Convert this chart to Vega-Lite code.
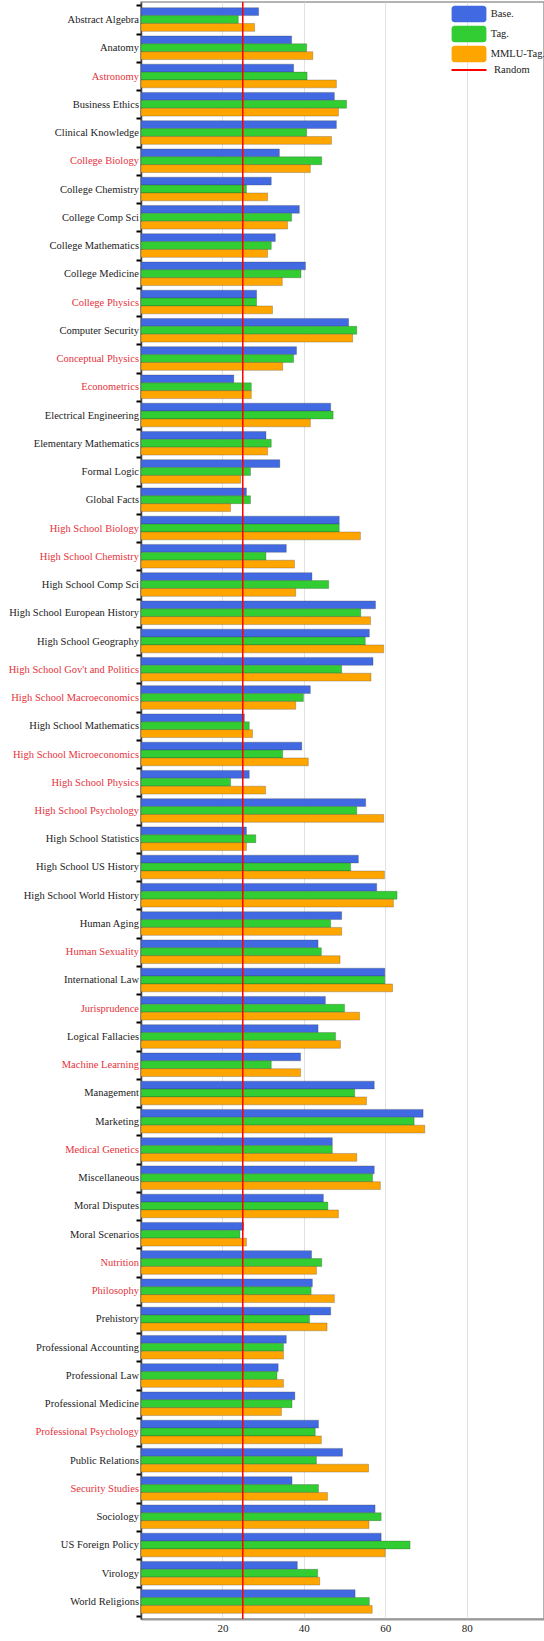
{
  "$schema": "https://vega.github.io/schema/vega-lite/v6.json",
  "width": 403,
  "height": 1617,
  "autosize": {"type": "none"},
  "padding": {"left": 141, "top": 2, "right": 0, "bottom": 22},
  "background": "white",
  "config": {"view": {"stroke": "#9a9a9a", "strokeWidth": 1.5}, "font": "Liberation Serif"},
  "layer": [
    {
      "data": {"values": [
        {"subject": "Abstract Algebra", "series": "Base.", "value": 28.9},
        {"subject": "Abstract Algebra", "series": "Tag.", "value": 23.9},
        {"subject": "Abstract Algebra", "series": "MMLU-Tag.", "value": 27.9},
        {"subject": "Anatomy", "series": "Base.", "value": 37.0},
        {"subject": "Anatomy", "series": "Tag.", "value": 40.7},
        {"subject": "Anatomy", "series": "MMLU-Tag.", "value": 42.2},
        {"subject": "Astronomy", "series": "Base.", "value": 37.5},
        {"subject": "Astronomy", "series": "Tag.", "value": 40.8},
        {"subject": "Astronomy", "series": "MMLU-Tag.", "value": 48.0},
        {"subject": "Business Ethics", "series": "Base.", "value": 47.5},
        {"subject": "Business Ethics", "series": "Tag.", "value": 50.5},
        {"subject": "Business Ethics", "series": "MMLU-Tag.", "value": 48.5},
        {"subject": "Clinical Knowledge", "series": "Base.", "value": 48.0},
        {"subject": "Clinical Knowledge", "series": "Tag.", "value": 40.7},
        {"subject": "Clinical Knowledge", "series": "MMLU-Tag.", "value": 46.8},
        {"subject": "College Biology", "series": "Base.", "value": 34.0},
        {"subject": "College Biology", "series": "Tag.", "value": 44.4},
        {"subject": "College Biology", "series": "MMLU-Tag.", "value": 41.6},
        {"subject": "College Chemistry", "series": "Base.", "value": 32.0},
        {"subject": "College Chemistry", "series": "Tag.", "value": 25.9},
        {"subject": "College Chemistry", "series": "MMLU-Tag.", "value": 31.1},
        {"subject": "College Comp Sci", "series": "Base.", "value": 38.9},
        {"subject": "College Comp Sci", "series": "Tag.", "value": 37.0},
        {"subject": "College Comp Sci", "series": "MMLU-Tag.", "value": 36.0},
        {"subject": "College Mathematics", "series": "Base.", "value": 33.0},
        {"subject": "College Mathematics", "series": "Tag.", "value": 32.0},
        {"subject": "College Mathematics", "series": "MMLU-Tag.", "value": 31.1},
        {"subject": "College Medicine", "series": "Base.", "value": 40.4},
        {"subject": "College Medicine", "series": "Tag.", "value": 39.3},
        {"subject": "College Medicine", "series": "MMLU-Tag.", "value": 34.7},
        {"subject": "College Physics", "series": "Base.", "value": 28.4},
        {"subject": "College Physics", "series": "Tag.", "value": 28.4},
        {"subject": "College Physics", "series": "MMLU-Tag.", "value": 32.3},
        {"subject": "Computer Security", "series": "Base.", "value": 51.0},
        {"subject": "Computer Security", "series": "Tag.", "value": 53.0},
        {"subject": "Computer Security", "series": "MMLU-Tag.", "value": 52.0},
        {"subject": "Conceptual Physics", "series": "Base.", "value": 38.2},
        {"subject": "Conceptual Physics", "series": "Tag.", "value": 37.5},
        {"subject": "Conceptual Physics", "series": "MMLU-Tag.", "value": 34.8},
        {"subject": "Econometrics", "series": "Base.", "value": 22.8},
        {"subject": "Econometrics", "series": "Tag.", "value": 27.1},
        {"subject": "Econometrics", "series": "MMLU-Tag.", "value": 27.1},
        {"subject": "Electrical Engineering", "series": "Base.", "value": 46.6},
        {"subject": "Electrical Engineering", "series": "Tag.", "value": 47.2},
        {"subject": "Electrical Engineering", "series": "MMLU-Tag.", "value": 41.6},
        {"subject": "Elementary Mathematics", "series": "Base.", "value": 30.7},
        {"subject": "Elementary Mathematics", "series": "Tag.", "value": 32.0},
        {"subject": "Elementary Mathematics", "series": "MMLU-Tag.", "value": 31.1},
        {"subject": "Formal Logic", "series": "Base.", "value": 34.1},
        {"subject": "Formal Logic", "series": "Tag.", "value": 26.9},
        {"subject": "Formal Logic", "series": "MMLU-Tag.", "value": 24.5},
        {"subject": "Global Facts", "series": "Base.", "value": 25.9},
        {"subject": "Global Facts", "series": "Tag.", "value": 26.9},
        {"subject": "Global Facts", "series": "MMLU-Tag.", "value": 22.0},
        {"subject": "High School Biology", "series": "Base.", "value": 48.7},
        {"subject": "High School Biology", "series": "Tag.", "value": 48.7},
        {"subject": "High School Biology", "series": "MMLU-Tag.", "value": 53.9},
        {"subject": "High School Chemistry", "series": "Base.", "value": 35.7},
        {"subject": "High School Chemistry", "series": "Tag.", "value": 30.7},
        {"subject": "High School Chemistry", "series": "MMLU-Tag.", "value": 37.7},
        {"subject": "High School Comp Sci", "series": "Base.", "value": 42.0},
        {"subject": "High School Comp Sci", "series": "Tag.", "value": 46.1},
        {"subject": "High School Comp Sci", "series": "MMLU-Tag.", "value": 38.0},
        {"subject": "High School European History", "series": "Base.", "value": 57.6},
        {"subject": "High School European History", "series": "Tag.", "value": 54.0},
        {"subject": "High School European History", "series": "MMLU-Tag.", "value": 56.4},
        {"subject": "High School Geography", "series": "Base.", "value": 56.1},
        {"subject": "High School Geography", "series": "Tag.", "value": 55.1},
        {"subject": "High School Geography", "series": "MMLU-Tag.", "value": 59.6},
        {"subject": "High School Gov't and Politics", "series": "Base.", "value": 57.0},
        {"subject": "High School Gov't and Politics", "series": "Tag.", "value": 49.3},
        {"subject": "High School Gov't and Politics", "series": "MMLU-Tag.", "value": 56.5},
        {"subject": "High School Macroeconomics", "series": "Base.", "value": 41.6},
        {"subject": "High School Macroeconomics", "series": "Tag.", "value": 39.9},
        {"subject": "High School Macroeconomics", "series": "MMLU-Tag.", "value": 38.0},
        {"subject": "High School Mathematics", "series": "Base.", "value": 25.4},
        {"subject": "High School Mathematics", "series": "Tag.", "value": 26.6},
        {"subject": "High School Mathematics", "series": "MMLU-Tag.", "value": 27.4},
        {"subject": "High School Microeconomics", "series": "Base.", "value": 39.5},
        {"subject": "High School Microeconomics", "series": "Tag.", "value": 34.8},
        {"subject": "High School Microeconomics", "series": "MMLU-Tag.", "value": 41.1},
        {"subject": "High School Physics", "series": "Base.", "value": 26.6},
        {"subject": "High School Physics", "series": "Tag.", "value": 22.0},
        {"subject": "High School Physics", "series": "MMLU-Tag.", "value": 30.6},
        {"subject": "High School Psychology", "series": "Base.", "value": 55.2},
        {"subject": "High School Psychology", "series": "Tag.", "value": 53.0},
        {"subject": "High School Psychology", "series": "MMLU-Tag.", "value": 59.6},
        {"subject": "High School Statistics", "series": "Base.", "value": 25.9},
        {"subject": "High School Statistics", "series": "Tag.", "value": 28.2},
        {"subject": "High School Statistics", "series": "MMLU-Tag.", "value": 25.9},
        {"subject": "High School US History", "series": "Base.", "value": 53.4},
        {"subject": "High School US History", "series": "Tag.", "value": 51.5},
        {"subject": "High School US History", "series": "MMLU-Tag.", "value": 59.8},
        {"subject": "High School World History", "series": "Base.", "value": 57.9},
        {"subject": "High School World History", "series": "Tag.", "value": 62.9},
        {"subject": "High School World History", "series": "MMLU-Tag.", "value": 62.0},
        {"subject": "Human Aging", "series": "Base.", "value": 49.3},
        {"subject": "Human Aging", "series": "Tag.", "value": 46.6},
        {"subject": "Human Aging", "series": "MMLU-Tag.", "value": 49.3},
        {"subject": "Human Sexuality", "series": "Base.", "value": 43.5},
        {"subject": "Human Sexuality", "series": "Tag.", "value": 44.3},
        {"subject": "Human Sexuality", "series": "MMLU-Tag.", "value": 48.9},
        {"subject": "International Law", "series": "Base.", "value": 59.9},
        {"subject": "International Law", "series": "Tag.", "value": 59.9},
        {"subject": "International Law", "series": "MMLU-Tag.", "value": 61.8},
        {"subject": "Jurisprudence", "series": "Base.", "value": 45.3},
        {"subject": "Jurisprudence", "series": "Tag.", "value": 50.0},
        {"subject": "Jurisprudence", "series": "MMLU-Tag.", "value": 53.7},
        {"subject": "Logical Fallacies", "series": "Base.", "value": 43.5},
        {"subject": "Logical Fallacies", "series": "Tag.", "value": 47.8},
        {"subject": "Logical Fallacies", "series": "MMLU-Tag.", "value": 49.0},
        {"subject": "Machine Learning", "series": "Base.", "value": 39.2},
        {"subject": "Machine Learning", "series": "Tag.", "value": 32.0},
        {"subject": "Machine Learning", "series": "MMLU-Tag.", "value": 39.2},
        {"subject": "Management", "series": "Base.", "value": 57.3},
        {"subject": "Management", "series": "Tag.", "value": 52.5},
        {"subject": "Management", "series": "MMLU-Tag.", "value": 55.4},
        {"subject": "Marketing", "series": "Base.", "value": 69.3},
        {"subject": "Marketing", "series": "Tag.", "value": 67.1},
        {"subject": "Marketing", "series": "MMLU-Tag.", "value": 69.7},
        {"subject": "Medical Genetics", "series": "Base.", "value": 47.0},
        {"subject": "Medical Genetics", "series": "Tag.", "value": 47.0},
        {"subject": "Medical Genetics", "series": "MMLU-Tag.", "value": 53.0},
        {"subject": "Miscellaneous", "series": "Base.", "value": 57.3},
        {"subject": "Miscellaneous", "series": "Tag.", "value": 56.9},
        {"subject": "Miscellaneous", "series": "MMLU-Tag.", "value": 58.8},
        {"subject": "Moral Disputes", "series": "Base.", "value": 44.8},
        {"subject": "Moral Disputes", "series": "Tag.", "value": 45.9},
        {"subject": "Moral Disputes", "series": "MMLU-Tag.", "value": 48.5},
        {"subject": "Moral Scenarios", "series": "Base.", "value": 25.2},
        {"subject": "Moral Scenarios", "series": "Tag.", "value": 24.3},
        {"subject": "Moral Scenarios", "series": "MMLU-Tag.", "value": 25.9},
        {"subject": "Nutrition", "series": "Base.", "value": 41.9},
        {"subject": "Nutrition", "series": "Tag.", "value": 44.4},
        {"subject": "Nutrition", "series": "MMLU-Tag.", "value": 43.1},
        {"subject": "Philosophy", "series": "Base.", "value": 42.1},
        {"subject": "Philosophy", "series": "Tag.", "value": 41.8},
        {"subject": "Philosophy", "series": "MMLU-Tag.", "value": 47.5},
        {"subject": "Prehistory", "series": "Base.", "value": 46.6},
        {"subject": "Prehistory", "series": "Tag.", "value": 41.4},
        {"subject": "Prehistory", "series": "MMLU-Tag.", "value": 45.7},
        {"subject": "Professional Accounting", "series": "Base.", "value": 35.7},
        {"subject": "Professional Accounting", "series": "Tag.", "value": 35.0},
        {"subject": "Professional Accounting", "series": "MMLU-Tag.", "value": 35.0},
        {"subject": "Professional Law", "series": "Base.", "value": 33.7},
        {"subject": "Professional Law", "series": "Tag.", "value": 33.4},
        {"subject": "Professional Law", "series": "MMLU-Tag.", "value": 35.0},
        {"subject": "Professional Medicine", "series": "Base.", "value": 37.8},
        {"subject": "Professional Medicine", "series": "Tag.", "value": 37.1},
        {"subject": "Professional Medicine", "series": "MMLU-Tag.", "value": 34.5},
        {"subject": "Professional Psychology", "series": "Base.", "value": 43.6},
        {"subject": "Professional Psychology", "series": "Tag.", "value": 42.8},
        {"subject": "Professional Psychology", "series": "MMLU-Tag.", "value": 44.3},
        {"subject": "Public Relations", "series": "Base.", "value": 49.5},
        {"subject": "Public Relations", "series": "Tag.", "value": 43.1},
        {"subject": "Public Relations", "series": "MMLU-Tag.", "value": 55.9},
        {"subject": "Security Studies", "series": "Base.", "value": 37.1},
        {"subject": "Security Studies", "series": "Tag.", "value": 43.6},
        {"subject": "Security Studies", "series": "MMLU-Tag.", "value": 45.8},
        {"subject": "Sociology", "series": "Base.", "value": 57.5},
        {"subject": "Sociology", "series": "Tag.", "value": 59.0},
        {"subject": "Sociology", "series": "MMLU-Tag.", "value": 56.0},
        {"subject": "US Foreign Policy", "series": "Base.", "value": 59.0},
        {"subject": "US Foreign Policy", "series": "Tag.", "value": 66.1},
        {"subject": "US Foreign Policy", "series": "MMLU-Tag.", "value": 60.0},
        {"subject": "Virology", "series": "Base.", "value": 38.4},
        {"subject": "Virology", "series": "Tag.", "value": 43.4},
        {"subject": "Virology", "series": "MMLU-Tag.", "value": 43.9},
        {"subject": "World Religions", "series": "Base.", "value": 52.6},
        {"subject": "World Religions", "series": "Tag.", "value": 56.1},
        {"subject": "World Religions", "series": "MMLU-Tag.", "value": 56.8}
      ]},
      "mark": {"type": "bar", "stroke": "#333333", "strokeWidth": 0.6, "strokeOpacity": 0.45},
      "encoding": {
        "y": {
          "field": "subject", "type": "nominal", "sort": null,
          "scale": {"paddingInner": 0, "paddingOuter": 0.12},
          "axis": {
            "title": null, "tickBand": "extent", "tickSize": 5, "tickWidth": 2, "tickColor": "#000000",
            "domainColor": "#444444", "domainWidth": 1.5, "grid": false,
            "labelFont": "Liberation Serif", "labelFontSize": 10.5, "labelPadding": -2.5, "labelLimit": 0,
            "labelColor": {
              "condition": {
                "test": "indexof([\"Astronomy\",\"College Biology\",\"College Physics\",\"Conceptual Physics\",\"Econometrics\",\"High School Biology\",\"High School Chemistry\",\"High School Gov't and Politics\",\"High School Macroeconomics\",\"High School Microeconomics\",\"High School Physics\",\"High School Psychology\",\"Human Sexuality\",\"Jurisprudence\",\"Machine Learning\",\"Medical Genetics\",\"Nutrition\",\"Philosophy\",\"Professional Psychology\",\"Security Studies\"], datum.value) >= 0",
                "value": "#e5323b"
              },
              "value": "#222222"
            }
          }
        },
        "x": {
          "field": "value", "type": "quantitative",
          "scale": {"domain": [0, 99], "nice": false, "zero": true},
          "axis": {
            "title": null, "values": [20, 40, 60, 80], "grid": true, "gridColor": "#e2e2e2", "gridWidth": 1,
            "ticks": false, "domainColor": "#999999", "domainWidth": 2,
            "labelFont": "Liberation Serif", "labelFontSize": 11, "labelColor": "#222222", "labelPadding": 3
          }
        },
        "yOffset": {
          "field": "series", "type": "nominal", "sort": ["Base.", "Tag.", "MMLU-Tag."],
          "scale": {"paddingInner": 0, "paddingOuter": 0.29}
        },
        "fill": {
          "field": "series", "type": "nominal", "sort": ["Base.", "Tag.", "MMLU-Tag."],
          "scale": {"domain": ["Base.", "Tag.", "MMLU-Tag."], "range": ["#4169e1", "#32cd32", "#ffa500"]},
          "legend": {
            "title": null, "orient": "none", "legendX": 319, "legendY": 3, "padding": 0,
            "symbolType": "M-1.65,-0.96H1.65A0.35,0.35 0 0 1 2,-0.61V0.61A0.35,0.35 0 0 1 1.65,0.96H-1.65A0.35,0.35 0 0 1 -2,0.61V-0.61A0.35,0.35 0 0 1 -1.65,-0.96Z",
            "symbolSize": 303, "symbolStrokeWidth": 0, "symbolOpacity": 1, "rowPadding": 2,
            "labelOffset": 12.7, "labelFont": "Liberation Serif", "labelFontSize": 10.5, "labelColor": "#222222"
          }
        }
      }
    },
    {
      "data": {"values": [{"name": "Random", "v": 25}]},
      "mark": {"type": "rule", "strokeWidth": 1.5},
      "encoding": {
        "x": {"field": "v", "type": "quantitative", "axis": {"title": null}},
        "stroke": {
          "field": "name", "type": "nominal",
          "scale": {"domain": ["Random"], "range": ["#ff0000"]},
          "legend": {
            "title": null, "orient": "none", "legendX": 309.5, "legendY": 49.5, "padding": 0,
            "symbolType": "stroke", "symbolSize": 1225, "symbolStrokeWidth": 2,
            "labelOffset": 6.5, "labelFont": "Liberation Serif", "labelFontSize": 10.5, "labelColor": "#222222"
          }
        }
      }
    }
  ]
}
